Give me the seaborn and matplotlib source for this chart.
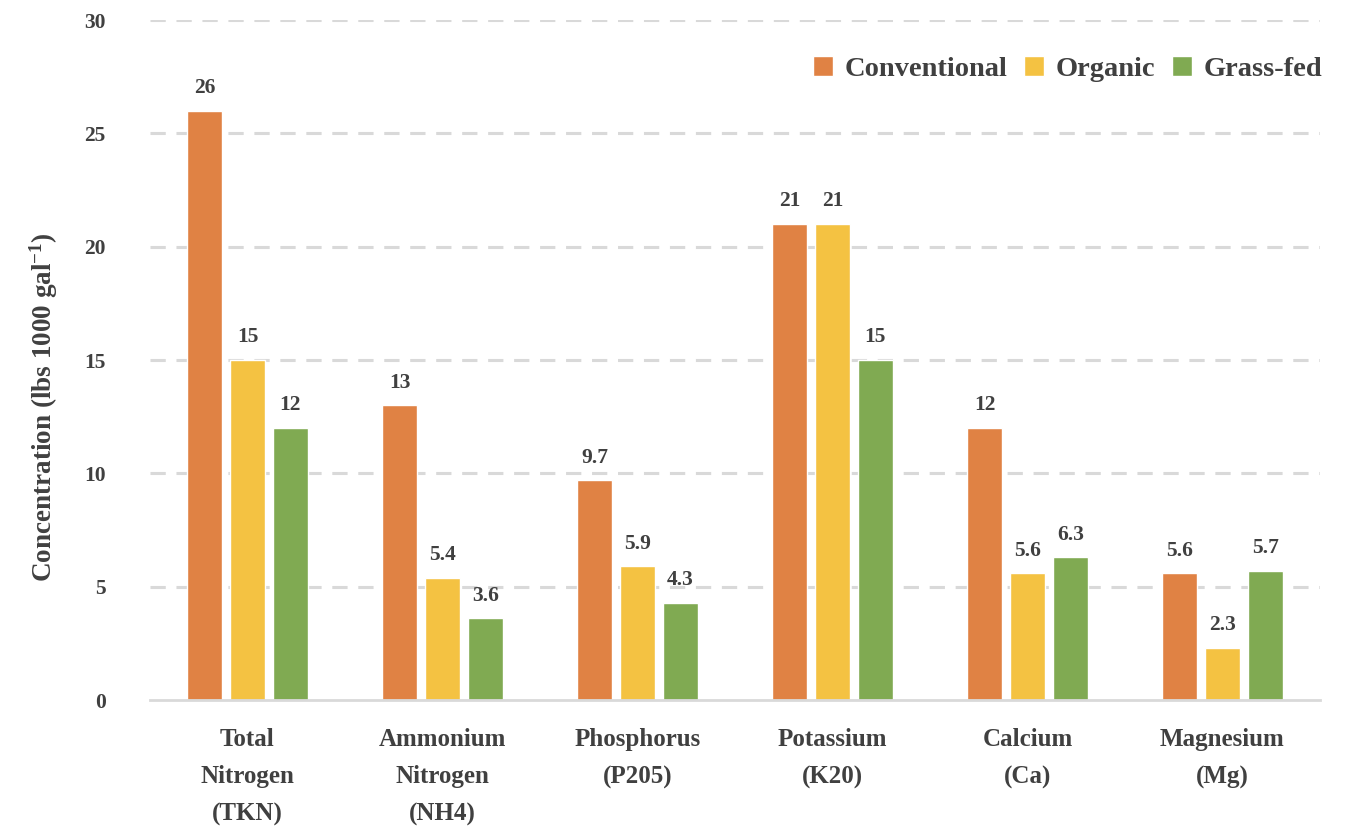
import matplotlib
matplotlib.use("Agg")
import matplotlib.pyplot as plt
import seaborn as sns
import pandas as pd

categories = ["Total\nNitrogen\n(TKN)", "Ammonium\nNitrogen\n(NH4)", "Phosphorus\n(P205)",
              "Potassium\n(K20)", "Calcium\n(Ca)", "Magnesium\n(Mg)"]
series = ["Conventional", "Organic", "Grass-fed"]
conventional = [26, 13, 9.7, 21, 12, 5.6]
organic = [15, 5.4, 5.9, 21, 5.6, 2.3]
grass_fed = [12, 3.6, 4.3, 15, 6.3, 5.7]
colors = ["#E08244", "#F4C242", "#80AA52"]
yticks = [0, 5, 10, 15, 20, 25, 30]

rows = []
for name, vals in zip(series, [conventional, organic, grass_fed]):
    for c, v in zip(categories, vals):
        rows.append({"Nutrient": c, "Type": name, "Value": v})
df = pd.DataFrame(rows)

sns.set_style("white")
plt.rcParams["font.family"] = ["Liberation Serif", "DejaVu Serif"]
plt.rcParams["font.weight"] = "bold"
plt.rcParams["mathtext.fontset"] = "custom"
plt.rcParams["mathtext.rm"] = "Liberation Serif:bold"
plt.rcParams["mathtext.default"] = "regular"

txt = "#404040"
fig = plt.figure(figsize=(13.52, 8.33), dpi=100)
ax = fig.add_axes([150/1352, 133/833, 1170/1352, 680/833])

sns.barplot(data=df, x="Nutrient", y="Value", hue="Type", palette=colors,
            order=categories, hue_order=series, width=0.66, gap=0.2,
            saturation=1, ax=ax, legend=True)

for cont in ax.containers:
    labels = [("%g" % v) for v in cont.datavalues]
    ax.bar_label(cont, labels=labels, padding=9, fontsize=15.5, color=txt, fontweight="bold")

ax.set_ylim(0, 30)
ax.set_xlim(-0.5, len(categories) - 0.5)
ax.set_yticks(yticks)
ax.set_yticklabels([str(t) for t in yticks], fontsize=15.5, color=txt, fontweight="bold")
ax.set_xticklabels(categories, fontsize=18, color=txt, fontweight="bold")
for lab in ax.get_xticklabels():
    lab.set_linespacing(1.8)
ax.tick_params(axis="y", length=0, pad=32)
ax.tick_params(axis="x", length=0, pad=20)
ax.yaxis.grid(True, color="#D9D9D9", linestyle=(0, (5, 3.5)), linewidth=2.2)
ax.set_axisbelow(True)
for g in ax.get_ygridlines()[:1]:
    g.set_visible(False)
for s in ["left", "right", "top"]:
    ax.spines[s].set_visible(False)
ax.spines["bottom"].set_color("#D9D9D9")
ax.spines["bottom"].set_linewidth(2)

ax.set_xlabel("")
ax.set_ylabel("Concentration (lbs 1000 gal$^{-1}$)", fontsize=19.5, color=txt,
              fontweight="bold")
ax.yaxis.set_label_coords(-0.077, 0.431)

handles, labels = ax.get_legend_handles_labels()
leg = ax.legend(handles, labels, loc="upper right", bbox_to_anchor=(1.024, 0.985), ncol=3,
                frameon=False, fontsize=20.5, handlelength=0.7, handleheight=0.7,
                handletextpad=0.4, columnspacing=0.6)
for t in leg.get_texts():
    t.set_color(txt)
    t.set_fontweight("bold")

fig.savefig("out.png", dpi=100)
